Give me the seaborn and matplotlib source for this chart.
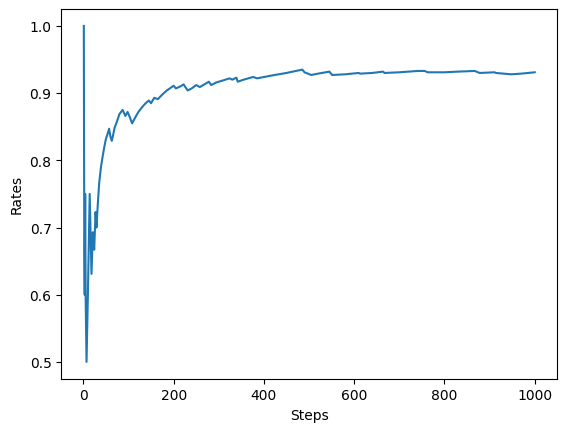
import matplotlib
matplotlib.use("Agg")
import matplotlib.pyplot as plt
import seaborn as sns
import pandas as pd

# running success rate
steps = [1, 2, 3, 4, 5, 7, 10, 14, 18, 21, 24, 27, 29, 32, 35, 39, 43, 47, 50,
         54, 57, 60, 63, 66, 69, 74, 80, 87, 93, 98, 103, 108, 115, 122, 130,
         138, 145, 150, 157, 165, 175, 185, 200, 205, 215, 222, 231, 240, 250,
         258, 268, 278, 283, 295, 310, 324, 330, 339, 342, 355, 376, 385, 400,
         424, 450, 485, 490, 505, 520, 545, 551, 580, 610, 613, 640, 664, 667,
         700, 741, 756, 763, 800, 830, 867, 878, 911, 914, 948, 970, 1000]
rates = [1.0, 0.667, 0.6, 0.75, 0.6, 0.5, 0.6, 0.75, 0.631, 0.693, 0.667,
         0.723, 0.70, 0.735, 0.766, 0.79, 0.807, 0.822, 0.832, 0.84, 0.847,
         0.835, 0.829, 0.838, 0.848, 0.857, 0.869, 0.875, 0.866, 0.872, 0.864,
         0.855, 0.864, 0.872, 0.879, 0.885, 0.889, 0.885, 0.893, 0.891, 0.898,
         0.904, 0.911, 0.907, 0.910, 0.913, 0.904, 0.907, 0.912, 0.909, 0.913,
         0.917, 0.912, 0.916, 0.919, 0.922, 0.920, 0.923, 0.917, 0.920, 0.924,
         0.922, 0.924, 0.927, 0.930, 0.935, 0.931, 0.927, 0.929, 0.932, 0.927,
         0.928, 0.930, 0.929, 0.930, 0.932, 0.930, 0.931, 0.933, 0.933, 0.931,
         0.931, 0.932, 0.933, 0.930, 0.931, 0.930, 0.928, 0.929, 0.931]

df = pd.DataFrame({"Steps": steps, "Rates": rates})

fig, ax = plt.subplots(figsize=(6.4, 4.8), dpi=100)
sns.lineplot(data=df, x="Steps", y="Rates", ax=ax, color="#1f77b4")
ax.set_xlabel("Steps")
ax.set_ylabel("Rates")
fig.savefig("out.png", bbox_inches="tight")
